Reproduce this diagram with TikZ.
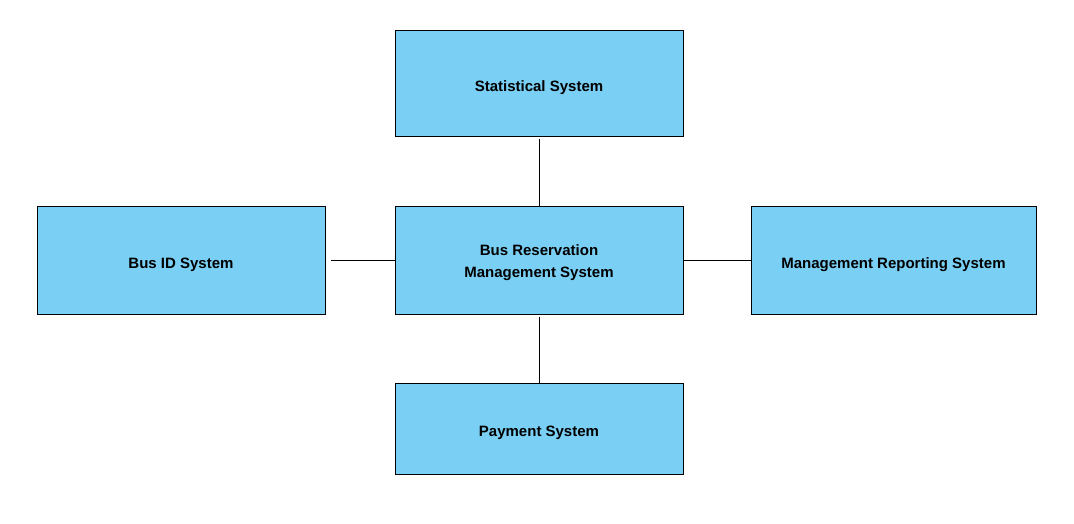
\documentclass[tikz,border=0pt]{standalone}
\usepackage{fontspec}
\setmainfont{Liberation Sans}
\usetikzlibrary{positioning}

\definecolor{boxblue}{HTML}{7ACFF4}

\begin{document}
\begin{tikzpicture}[x=1pt, y=-1pt,
    sysbox/.style={draw=black, fill=boxblue, line width=1pt, minimum width=288pt,
        minimum height=108pt, align=center, text height=16pt, text depth=0pt,
        font=\fontsize{15}{22}\selectfont\bfseries},
    link/.style={draw=black, line width=1pt}]
    \useasboundingbox (0,0) rectangle (1074,523);

    \node[sysbox, text height=35pt] (brms) at (539,260) {Bus Reservation\\Management System};
    \node[sysbox, minimum height=106pt, above=69pt of brms] (stat) {Statistical System};
    \node[sysbox, left=69pt of brms] (busid) {Bus ID System};
    \node[sysbox, minimum width=285pt, right=67pt of brms] (mgmtrep) {Management Reporting System};
    \node[sysbox, minimum height=91pt, below=68pt of brms] (payment) {Payment System};

    % connectors
    \draw[link, shorten <=2pt] (stat) -- (brms);
    \draw[link, shorten <=5pt] (busid) -- (brms);
    \draw[link] (brms) -- (mgmtrep);
    \draw[link, shorten <=2pt] (brms) -- (payment);
\end{tikzpicture}
\end{document}
